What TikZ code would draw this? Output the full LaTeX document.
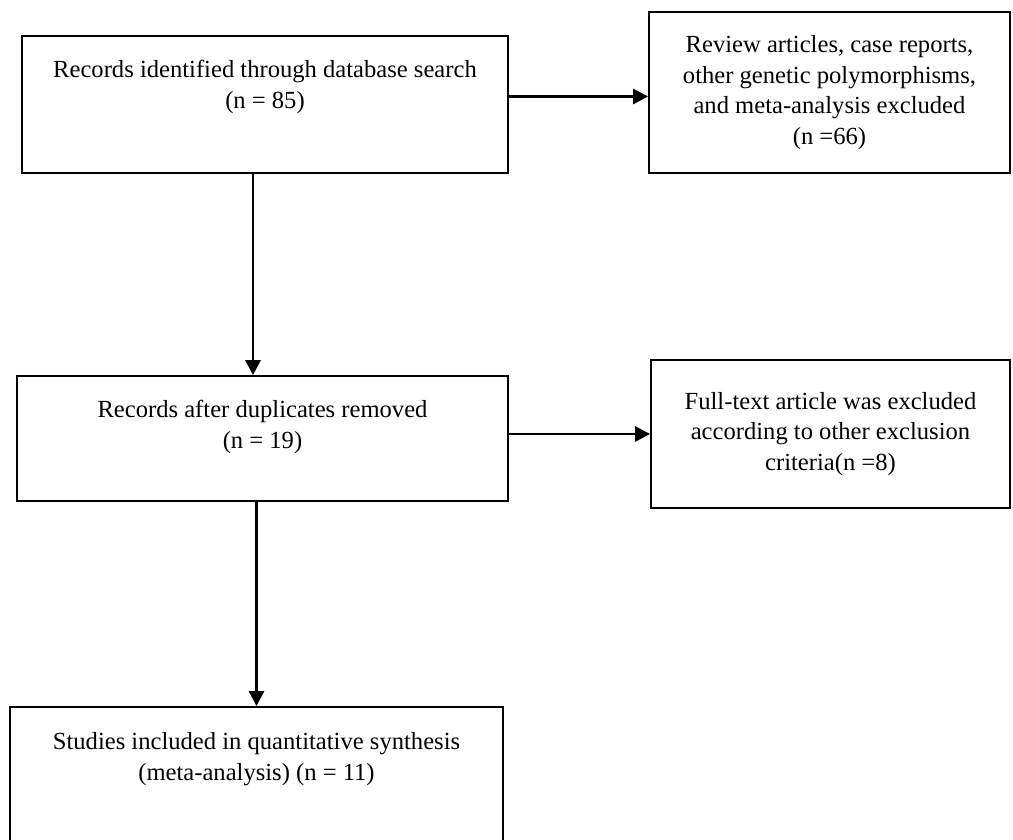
\documentclass[tikz,border=0pt]{standalone}
\usepackage{fontspec}
\setmainfont{Liberation Serif}
\usepackage{tikz}
\usetikzlibrary{arrows.meta,positioning,calc}
\tikzset{
  box/.style={draw=black,line width=1.8pt,rectangle,inner sep=0pt,fill=white},
  txt/.style={align=center,inner sep=0pt,text=black},
  arrow/.style={-{Triangle[length=15pt,width=15pt]},line width=2.8pt,draw=black}
}

\begin{document}
\begin{tikzpicture}[x=1pt,y=-1pt,font=\fontsize{24.6}{30.5}\selectfont]
  \useasboundingbox[fill=white] (0,0) rectangle (1013,839);

  % left column
  \node[box,minimum width=486pt,minimum height=137pt] (b1) at (265,104.5) {};
  \node[txt] (t1) at (265,87) {Records identified through database search\\(n = 85)};
  \node[box,minimum width=491pt,minimum height=125pt] (b3) at (262.5,438.5) {};
  \node[txt] (t3) at (262.5,427) {Records after duplicates removed\\(n = 19)};
  \node[box,minimum width=493pt,minimum height=163pt] (b5) at (256.5,788.5) {};
  \node[txt] (t5) at (256.5,759) {Studies included in quantitative synthesis\\(meta-analysis) (n = 11)};

  % right column
  \node[box,txt,minimum width=361pt,minimum height=161pt] (b2) at (829.5,92.5)
    {Review articles, case reports,\\other genetic polymorphisms,\\and meta-analysis excluded\\(n =66)};
  \node[box,txt,minimum width=359pt,minimum height=148pt] (b4) at (830.5,434)
    {Full-text article was excluded\\according to other exclusion\\criteria(n =8)};

  % arrows
  \draw[arrow] ([xshift=-12pt]b1.south) -- ([xshift=-12pt]b1.south |- b3.north);
  \draw[arrow] ([xshift=-6pt]b3.south) -- ([xshift=-6pt]b3.south |- b5.north);
  \draw[arrow] ([yshift=-4pt]b2.west -| b1.east) -- ([yshift=-4pt]b2.west);
  \draw[arrow] (b4.west -| b3.east) -- (b4.west);
\end{tikzpicture}
\end{document}
